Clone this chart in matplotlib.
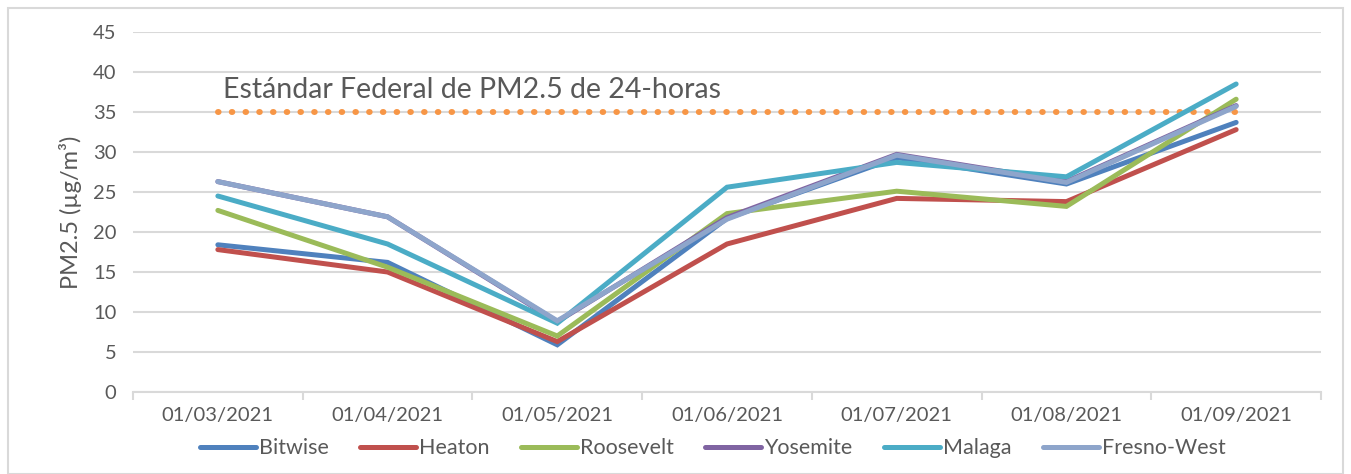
import matplotlib.pyplot as plt
from matplotlib.patches import Rectangle

plt.rcParams['font.family'] = ['Lato', 'DejaVu Sans']

# Fechas (categorías del eje x)
fechas = ["01/03/2021", "01/04/2021", "01/05/2021", "01/06/2021",
          "01/07/2021", "01/08/2021", "01/09/2021"]

# PM2.5 por sitio (µg/m3)
bitwise = [18.4, 16.2, 5.9, 21.7, 29.3, 26.0, 33.7]
heaton = [17.8, 15.0, 6.3, 18.5, 24.2, 23.8, 32.8]
roosevelt = [22.7, 15.6, 7.0, 22.3, 25.1, 23.2, 36.6]
yosemite = [26.3, 21.9, 8.8, 21.8, 29.7, 26.3, 35.8]
malaga = [24.5, 18.5, 8.6, 25.6, 28.7, 26.9, 38.5]
fresno_west = [26.3, 21.9, 8.9, 21.6, 29.6, 26.2, 35.7]

estandar = 35
texto_estandar = "Estándar Federal de PM2.5 de 24-horas"

series = [
    ("Bitwise", bitwise, "#4F81BD"),
    ("Heaton", heaton, "#C0504D"),
    ("Roosevelt", roosevelt, "#9BBB59"),
    ("Yosemite", yosemite, "#8064A2"),
    ("Malaga", malaga, "#4BACC6"),
    ("Fresno-West", fresno_west, "#8EA5CB"),
]

fig = plt.figure(figsize=(13.51, 4.74), dpi=100)
ax = fig.add_axes([133 / 1351, (474 - 392) / 474, (1321 - 133) / 1351, 360 / 474])

# borde exterior del gráfico
fig.patches.append(Rectangle((8 / 1351, 0), 1 - 16 / 1351, 1 - 8 / 474,
                             transform=fig.transFigure, fill=False,
                             edgecolor="#D9D9D9", linewidth=1.5))

x = list(range(len(fechas)))

# línea del estándar federal
ax.plot(x, [estandar] * len(x), color="#F79646", linestyle=(0, (0.1, 2.2)),
        linewidth=4.3, dash_capstyle="round", zorder=2)
ax.text(0.03, 37.8, texto_estandar, fontsize=20.5, color="#595959",
        va="center", ha="left")

for nombre, valores, color in series:
    ax.plot(x, valores, color=color, linewidth=3.6, label=nombre,
            solid_capstyle="round", solid_joinstyle="miter", zorder=3)

ax.set_xlim(-0.5, len(fechas) - 0.5)
ax.set_ylim(0, 45)
ax.set_yticks(range(0, 50, 5))
ax.set_xticks(x)
ax.set_xticklabels(fechas)
ax.set_xticks([i - 0.5 for i in range(len(fechas) + 1)], minor=True)

ax.grid(axis="y", color="#D9D9D9", linewidth=1.5)
ax.set_axisbelow(True)
for lado in ["top", "right", "left"]:
    ax.spines[lado].set_visible(False)
ax.spines["bottom"].set_color("#D9D9D9")
ax.spines["bottom"].set_linewidth(1.5)

ax.tick_params(axis="y", length=0, labelsize=14.5, labelcolor="#595959", pad=12)
ax.tick_params(axis="x", which="major", length=0, labelsize=14.5,
               labelcolor="#595959", pad=11)
ax.tick_params(axis="x", which="minor", length=6, width=1.5, color="#D9D9D9")

ax.set_ylabel("PM2.5 (µg/m³)", fontsize=17, color="#595959", labelpad=8)

ax.legend(loc="upper center", bbox_to_anchor=(0.488, -0.105), ncol=6,
          frameon=False, fontsize=15.5, labelcolor="#595959", handlelength=2.6,
          handletextpad=0.15, columnspacing=1.45, borderaxespad=0)

fig.savefig("out.png", dpi=100)
